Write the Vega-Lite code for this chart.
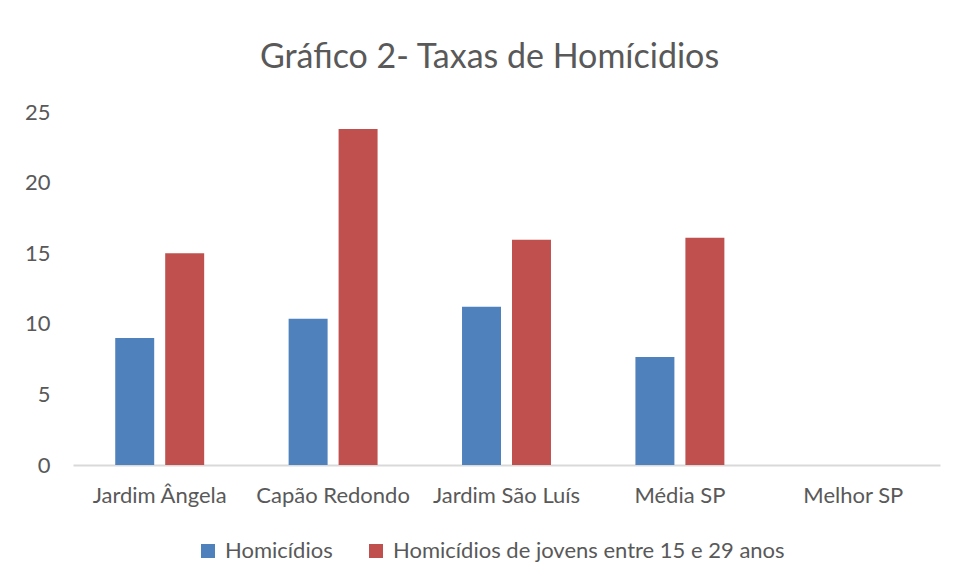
{
  "$schema": "https://vega.github.io/schema/vega-lite/v6.json",
  "autosize": "none",
  "width": 867,
  "height": 353,
  "padding": {"left": 73, "top": 112, "right": 17, "bottom": 117},
  "background": "white",
  "title": {
    "text": "Gráfico 2- Taxas de Homícidios",
    "font": "Lato",
    "fontSize": 34,
    "fontWeight": "normal",
    "color": "#595959",
    "anchor": "middle",
    "dx": -17,
    "offset": 26
  },
  "data": {
    "values": [
      {"local": "Jardim Ângela", "serie": "Homicídios", "taxa": 9.0},
      {"local": "Jardim Ângela", "serie": "Homicídios de jovens entre 15 e 29 anos", "taxa": 15.0},
      {"local": "Capão Redondo", "serie": "Homicídios", "taxa": 10.35},
      {"local": "Capão Redondo", "serie": "Homicídios de jovens entre 15 e 29 anos", "taxa": 23.8},
      {"local": "Jardim São Luís", "serie": "Homicídios", "taxa": 11.2},
      {"local": "Jardim São Luís", "serie": "Homicídios de jovens entre 15 e 29 anos", "taxa": 15.95},
      {"local": "Média SP", "serie": "Homicídios", "taxa": 7.65},
      {"local": "Média SP", "serie": "Homicídios de jovens entre 15 e 29 anos", "taxa": 16.1}
    ]
  },
  "mark": {"type": "bar"},
  "encoding": {
    "x": {
      "field": "local",
      "type": "nominal",
      "sort": null,
      "scale": {"domain": ["Jardim Ângela", "Capão Redondo", "Jardim São Luís", "Média SP", "Melhor SP"], "paddingInner": 0.487, "paddingOuter": 0.2435},
      "axis": {
        "title": null,
        "labelAngle": 0,
        "labelFont": "Lato",
        "labelFontSize": 22,
        "labelColor": "#595959",
        "labelPadding": 20,
        "labelLimit": 0,
        "ticks": false,
        "domainColor": "#d9d9d9",
        "domainWidth": 2
      }
    },
    "xOffset": {
      "field": "serie",
      "type": "nominal",
      "scale": {"paddingInner": 0.22, "paddingOuter": 0}
    },
    "y": {
      "field": "taxa",
      "type": "quantitative",
      "scale": {"domain": [0, 25]},
      "axis": {
        "title": null,
        "values": [0, 5, 10, 15, 20, 25],
        "grid": false,
        "domain": false,
        "ticks": false,
        "labelFont": "Lato",
        "labelFontSize": 22,
        "labelColor": "#595959",
        "labelPadding": 23
      }
    },
    "color": {
      "field": "serie",
      "type": "nominal",
      "scale": {"range": ["#4F81BD", "#C0504D"]},
      "legend": {
        "title": null,
        "orient": "none",
        "legendX": 124,
        "legendY": 428,
        "direction": "horizontal",
        "symbolType": "square",
        "symbolSize": 196,
        "symbolStrokeWidth": 0,
        "labelFont": "Lato",
        "labelFontSize": 22,
        "labelColor": "#595959",
        "labelOffset": 6,
        "labelLimit": 0,
        "columnPadding": 32
      }
    }
  },
  "config": {
    "view": {"stroke": null}
  }
}
